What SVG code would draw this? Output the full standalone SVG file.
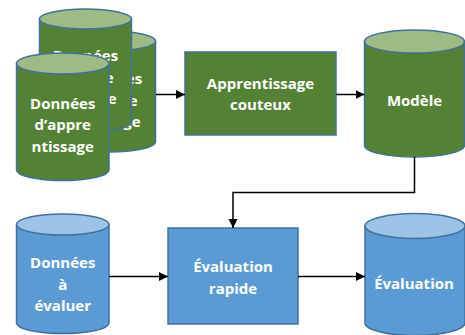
<svg xmlns="http://www.w3.org/2000/svg" width="465" height="335" viewBox="0 0 465 335">
<defs>
<style>
.g{fill:#548235;stroke:#41719C;stroke-width:1.5}
.gt{fill:#9EBB84;stroke:#41719C;stroke-width:1.5}
.b{fill:#5B9BD5;stroke:#41719C;stroke-width:1.5}
.bt{fill:#9DC3E6;stroke:#41719C;stroke-width:1.5}
.t{font-family:"Open Sans","Liberation Sans",sans-serif;font-weight:bold;font-size:15px;fill:#FFFFFF;text-anchor:middle}
.c{fill:none;stroke:#000;stroke-width:1.5}
</style>
<marker id="ah" markerUnits="userSpaceOnUse" markerWidth="10" markerHeight="10" refX="9" refY="5" orient="auto">
<path d="M0,0.5 L9,5 L0,9.5 Z" fill="#000"/>
</marker>
</defs>
<rect width="465" height="335" fill="#FFFFFF"/>
<g id="train-data-b">
<path class="g" d="M63.5,41 V142 A46,10 0 0 0 155.5,142 V41 Z"/>
<ellipse class="gt" cx="109.5" cy="41" rx="46" ry="10"/>
<text class="t" x="109.5" y="84">Données</text>
<text class="t" x="109.5" y="105.5">d’appre</text>
<text class="t" x="109.5" y="127">ntissage</text>
</g>
<g id="train-data-a">
<path class="g" d="M39.5,19 V122 A46,10 0 0 0 131.5,122 V19 Z"/>
<ellipse class="gt" cx="85.5" cy="19" rx="46" ry="10"/>
<text class="t" x="85.5" y="61">Données</text>
<text class="t" x="85.5" y="82.5">d’appre</text>
<text class="t" x="85.5" y="104">ntissage</text>
</g>
<g id="train-data-c">
<path class="g" d="M16.5,63.5 V170 A46.25,10.5 0 0 0 109,170 V63.5 Z"/>
<ellipse class="gt" cx="62.75" cy="63.5" rx="46.25" ry="10.5"/>
<text class="t" x="62.75" y="108.5">Données</text>
<text class="t" x="62.75" y="130">d’appre</text>
<text class="t" x="62.75" y="151.5">ntissage</text>
</g>
<g id="apprentissage">
<rect class="g" x="185" y="52" width="151" height="83"/>
<text class="t" x="260.5" y="88.5">Apprentissage</text>
<text class="t" x="260.5" y="110">couteux</text>
</g>
<g id="modele">
<path class="g" d="M364.5,41.5 V145.5 A50,11.5 0 0 0 464.5,145.5 V41.5 Z"/>
<ellipse class="gt" cx="414.5" cy="41.5" rx="50" ry="11.5"/>
<text class="t" x="414.5" y="105.5">Modèle</text>
</g>
<g id="donnees-evaluer">
<path class="b" d="M16.5,224.5 V323 A46.25,10.5 0 0 0 109,323 V224.5 Z"/>
<ellipse class="bt" cx="62.75" cy="224.5" rx="46.25" ry="10.5"/>
<text class="t" x="62.75" y="268">Données</text>
<text class="t" x="62.75" y="289.5">à</text>
<text class="t" x="62.75" y="311">évaluer</text>
</g>
<g id="evaluation-rapide">
<rect class="b" x="168" y="228" width="130" height="96"/>
<text class="t" x="233" y="272">Évaluation</text>
<text class="t" x="233" y="293.5">rapide</text>
</g>
<g id="evaluation">
<path class="b" d="M365,226 V323 A50,12.5 0 0 0 465,323 V226 Z"/>
<ellipse class="bt" cx="415" cy="226" rx="50" ry="12.5"/>
<text class="t" x="414" y="288.5">Évaluation</text>
</g>
<g id="connectors">
<path class="c" d="M156,94.5 H185" marker-end="url(#ah)"/>
<path class="c" d="M336,94.5 H364.5" marker-end="url(#ah)"/>
<path class="c" d="M414.5,157 V192.5 H233 V228" marker-end="url(#ah)"/>
<path class="c" d="M109,276.5 H168" marker-end="url(#ah)"/>
<path class="c" d="M298,276.5 H365" marker-end="url(#ah)"/>
</g>
</svg>
